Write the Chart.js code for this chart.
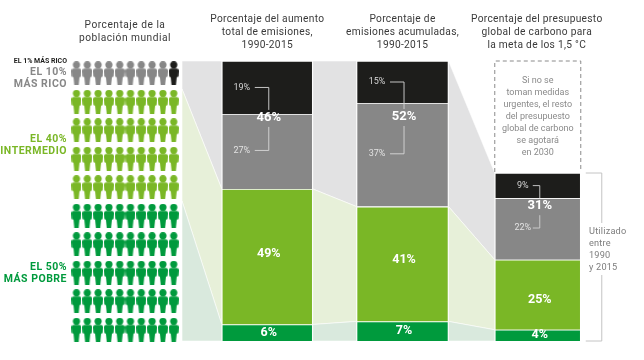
<!DOCTYPE html>
<html lang="es">
<head>
<meta charset="utf-8">
<title>Desigualdad de emisiones</title>
<script src="https://cdn.jsdelivr.net/npm/chart.js@4"></script>
<style>
  html, body { margin: 0; background: #fff; }
  #lienzo { position: absolute; left: 0; top: 0; }
</style>
</head>
<body>
<canvas id="lienzo" width="644" height="360"></canvas>
<script>
/* DATOS */
const categorias = ["Población", "Aumento", "Acumuladas", "Presupuesto"];

// Altura de cada tramo (la primera columna es la población)
const muyRicos   = [1, 18.9, 15, 9];
const ricos      = [9, 26.8, 37, 22];
const intermedio = [40, 48.4, 41, 25];
const pobres     = [50, 5.9, 7, 4];

const titulos = [
  ["Porcentaje de la", "población mundial"],
  ["Porcentaje del aumento", "total de emisiones,", "1990-2015"],
  ["Porcentaje de", "emisiones acumuladas,", "1990-2015"],
  ["Porcentaje del presupuesto", "global de carbono para", "la meta de los 1,5 °C"]
];

const etiquetasMuyRicos   = ["", "19%", "15%", "9%"];
const etiquetasRicos      = ["", "27%", "37%", "22%"];
const etiquetasTotal      = ["", "46%", "52%", "31%"];
const etiquetasIntermedio = ["", "49%", "41%", "25%"];
const etiquetasPobres     = ["", "6%", "7%", "4%"];

const personasPorGrupo = [1, 9, 40, 50];
const notaPresupuesto = ["Si no se", "toman medidas", "urgentes, el resto", "del presupuesto", "global de carbono", "se agotará", "en 2030"];
const notaUtilizado = ["Utilizado", "entre", "1990", "y 2015"];

/* ESTILO */
const NEGRO = "#1d1d1b", GRIS = "#878787", VERDE = "#7ab726", VERDE_OSC = "#009a3d";
const FLUJO_GRIS = "#e2e2e3", FLUJO_VERDE = "#e7f0d9", FLUJO_OSC = "#d9e9dd";
const ANCHOS = [100, 91, 92, 86];
const FUENTE = "Roboto, sans-serif";
const FUENTE_ESTRECHA = "'Liberation Sans Narrow', Roboto, sans-serif";

// Índices de las barras apiladas (de abajo arriba)
const D_POBRES = 0, D_INTERMEDIO = 1, D_RICOS = 2, D_MUY_RICOS = 3;

// Icono de persona como pointStyle
function crearPersona(color) {
  const c = document.createElement("canvas");
  c.width = 10; c.height = 24;
  const g = c.getContext("2d");
  g.fillStyle = color;
  g.beginPath(); g.arc(5, 3.6, 3.6, 0, Math.PI * 2); g.fill();
  g.beginPath();
  g.moveTo(2, 7.2); g.lineTo(8, 7.2);
  g.quadraticCurveTo(10, 7.2, 10, 9.4);
  g.lineTo(9.6, 15.2); g.lineTo(8, 16);
  g.lineTo(7.2, 24); g.lineTo(2.8, 24); g.lineTo(2, 16);
  g.lineTo(0.4, 15.2); g.lineTo(0, 9.4);
  g.quadraticCurveTo(0, 7.2, 2, 7.2);
  g.closePath(); g.fill();
  return c;
}

// Colocar personas en la cuadrícula de 10 x 10
function puntosGrupo(indice) {
  const puntos = [];
  if (indice === 0) return [{ x: 9, y: 0 }]; // el 1% más rico es la última de la primera fila
  if (indice === 1) {
    for (let i = 0; i < personasPorGrupo[1]; i++) puntos.push({ x: i, y: 0 });
    return puntos;
  }
  const inicio = personasPorGrupo.slice(0, indice).reduce((a, b) => a + b, 0);
  for (let i = 0; i < personasPorGrupo[indice]; i++) {
    const n = inicio + i;
    puntos.push({ x: n % 10, y: Math.floor(n / 10) });
  }
  return puntos;
}

function datasetPersonas(indice, color) {
  return {
    type: "scatter", data: puntosGrupo(indice), xAxisID: "xPersonas", yAxisID: "yPersonas",
    pointStyle: crearPersona(color), pointRadius: 5, clip: false
  };
}

function datasetBarra(valores, color) {
  return {
    data: valores, grouped: false, borderWidth: 0.8,
    borderColor: ctx => ctx.dataIndex === 0 ? "transparent" : "rgba(255,255,255,0.45)",
    backgroundColor: ctx => ctx.dataIndex === 0 ? "transparent" : color
  };
}

function texto(ctx, lineas, x, y, salto, fuente, color, alineado = "center", espacio = "0px") {
  ctx.save();
  ctx.font = fuente; ctx.fillStyle = color; ctx.textAlign = alineado;
  ctx.textBaseline = "middle"; ctx.letterSpacing = espacio;
  [].concat(lineas).forEach((l, i) => ctx.fillText(l, x, y + i * salto));
  ctx.restore();
}

function lineaGuia(ctx, puntos) {
  ctx.beginPath();
  puntos.forEach((p, i) => i ? ctx.lineTo(p[0], p[1]) : ctx.moveTo(p[0], p[1]));
  ctx.stroke();
}

/* PLUGIN: anchos por columna */
const anchosColumna = {
  id: "anchosColumna",
  afterDatasetsUpdate(chart) {
    for (let d = 0; d < 4; d++) {
      chart.getDatasetMeta(d).data.forEach((el, i) => { el.width = ANCHOS[i]; });
    }
  }
};

/* PLUGIN: franjas entre columnas */
const franjas = {
  id: "franjas",
  beforeDatasetsDraw(chart) {
    const ctx = chart.ctx;
    const bandas = [
      { arriba: D_MUY_RICOS, abajo: D_RICOS, color: FLUJO_GRIS },
      { arriba: D_INTERMEDIO, abajo: D_INTERMEDIO, color: FLUJO_VERDE },
      { arriba: D_POBRES, abajo: D_POBRES, color: FLUJO_OSC }
    ];
    ctx.save();
    bandas.forEach(b => {
      const sup = chart.getDatasetMeta(b.arriba).data;
      const inf = chart.getDatasetMeta(b.abajo).data;
      for (let i = 0; i < 3; i++) {
        const x1 = sup[i].x + ANCHOS[i] / 2;
        const x2 = sup[i + 1].x - ANCHOS[i + 1] / 2;
        ctx.beginPath();
        ctx.moveTo(x1, sup[i].y);
        ctx.lineTo(x2, sup[i + 1].y);
        ctx.lineTo(x2, inf[i + 1].base);
        ctx.lineTo(x1, inf[i].base);
        ctx.closePath();
        ctx.fillStyle = b.color;
        ctx.fill();
        ctx.strokeStyle = "rgba(255,255,255,0.7)";
        ctx.lineWidth = 0.8;
        ctx.stroke();
      }
    });
    ctx.restore();
  }
};

/* PLUGIN: textos y anotaciones */
const anotaciones = {
  id: "anotaciones",
  afterDraw(chart) {
    const ctx = chart.ctx;
    const esc = chart.scales.x;
    const centro = (d, i) => {
      const el = chart.getDatasetMeta(d).data[i];
      return (el.y + el.base) / 2;
    };

    // Títulos
    const colorTitulo = "#3a3a3a";
    texto(ctx, titulos[0], 125, 25, 13, "400 10.2px " + FUENTE, colorTitulo, "center", "0.5px");
    for (let i = 1; i < 4; i++) {
      texto(ctx, titulos[i], esc.getPixelForValue(i) + (i === 3 ? -1 : 0), 19, 13, "400 10.2px " + FUENTE, colorTitulo, "center", "0.3px");
    }

    // Grupos de población
    texto(ctx, "EL 1% MÁS RICO", 67, 61, 0, "700 7px " + FUENTE, NEGRO, "right");
    texto(ctx, ["EL 10%", "MÁS RICO"], 67, 72, 12, "700 10.5px " + FUENTE_ESTRECHA, GRIS, "right", "0.5px");
    texto(ctx, ["EL 40%", "INTERMEDIO"], 67, 139, 12, "700 10.5px " + FUENTE_ESTRECHA, VERDE, "right", "0.5px");
    texto(ctx, ["EL 50%", "MÁS POBRE"], 67, 267, 12, "700 10.5px " + FUENTE_ESTRECHA, VERDE_OSC, "right", "0.5px");

    // Etiquetas dentro de las barras
    const desvTotal = [0, 4, 14, 8];
    const desvVerde = [0, -3, -4, 5];
    const desvX = [0, 1.5, 1.5, 2];
    for (let i = 1; i < 4; i++) {
      const xc = esc.getPixelForValue(i) + desvX[i];
      const ySup = centro(D_MUY_RICOS, i);
      const yInf = centro(D_RICOS, i);
      const yTotal = chart.getDatasetMeta(D_RICOS).data[i].y + desvTotal[i];
      const xTexto = xc - (i === 3 ? 17 : 27);
      const xCodo = xc - (i === 3 ? 7 : 14);

      ctx.save();
      ctx.strokeStyle = i === 3 ? "#d0d0d0" : "#d8d8d8";
      ctx.lineWidth = 0.9;
      lineaGuia(ctx, [[xCodo, ySup], [xc, ySup], [xc, yTotal - 8]]);
      lineaGuia(ctx, [[xc, yTotal + 9], [xc, yInf - 1], [xCodo, yInf - 1]]);
      ctx.restore();

      texto(ctx, etiquetasMuyRicos[i], xTexto, ySup, 0, "400 9px " + FUENTE, "#d5d5d5");
      texto(ctx, etiquetasRicos[i], xTexto, yInf - 1, 0, "400 9px " + FUENTE, "#e2e2e2");
      texto(ctx, etiquetasTotal[i], xc, yTotal, 0, "700 13px " + FUENTE, "#fff");
      texto(ctx, etiquetasIntermedio[i], xc, centro(D_INTERMEDIO, i) + desvVerde[i], 0, "700 12.5px " + FUENTE, "#fff");
      texto(ctx, etiquetasPobres[i], xc, centro(D_POBRES, i) + (i === 3 ? -0.5 : 0), 0, "700 12.5px " + FUENTE, "#fff");
    }

    // Caja discontinua sobre la tercera barra
    const barraNegra = chart.getDatasetMeta(D_MUY_RICOS).data[3];
    const izq = barraNegra.x - ANCHOS[3] / 2;
    const der = barraNegra.x + ANCHOS[3] / 2;
    ctx.save();
    ctx.strokeStyle = "#8a8a8a";
    ctx.lineWidth = 1;
    ctx.setLineDash([4, 3]);
    lineaGuia(ctx, [[izq, barraNegra.y - 1], [izq, chart.chartArea.top], [der, chart.chartArea.top], [der, barraNegra.y - 1]]);
    ctx.restore();
    texto(ctx, notaPresupuesto, barraNegra.x, 80.5, 12.1, "400 9px " + FUENTE, "#8a8a8a");

    // Llave "Utilizado entre 1990 y 2015"
    const abajo = chart.getDatasetMeta(D_POBRES).data[3].base;
    ctx.save();
    ctx.strokeStyle = "#c4c4c4";
    ctx.lineWidth = 1;
    lineaGuia(ctx, [[der + 5, barraNegra.y], [der + 21, barraNegra.y], [der + 21, 223]]);
    lineaGuia(ctx, [[der + 21, 275], [der + 21, abajo], [der + 5, abajo]]);
    ctx.restore();
    texto(ctx, notaUtilizado, 589, 232, 12, "400 9.2px " + FUENTE, "#7d7d7d", "left", "0.2px");
  }
};

/* CHART */
Chart.defaults.animation = false;
new Chart(document.getElementById("lienzo").getContext("2d"), {
  type: "bar",
  data: {
    labels: categorias,
    datasets: [
      datasetBarra(pobres, VERDE_OSC),
      datasetBarra(intermedio, VERDE),
      datasetBarra(ricos, GRIS),
      datasetBarra(muyRicos, NEGRO),
      datasetPersonas(0, NEGRO),
      datasetPersonas(1, GRIS),
      datasetPersonas(2, VERDE),
      datasetPersonas(3, VERDE_OSC)
    ]
  },
  options: {
    responsive: false,
    layout: { padding: { left: 64.4, right: 38.6, top: 61, bottom: 19 } },
    plugins: { legend: { display: false }, tooltip: { enabled: false } },
    scales: {
      x: { type: "category", stacked: true, offset: true, display: false },
      y: { stacked: true, min: 0, max: 100, display: false },
      xPersonas: { type: "linear", display: false, offset: false, min: -1.12, max: 48.97 },
      yPersonas: { type: "linear", display: false, reverse: true, min: -0.43, max: 9.395 }
    }
  },
  plugins: [anchosColumna, franjas, anotaciones]
});
</script>
</body>
</html>
